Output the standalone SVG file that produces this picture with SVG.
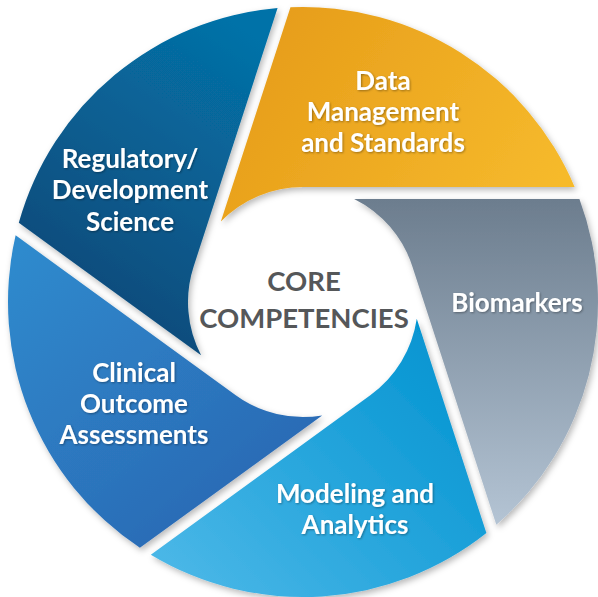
<svg xmlns="http://www.w3.org/2000/svg" width="598" height="597" viewBox="0 0 598 597">
  <defs>
    <linearGradient id="gReg" x1="0.75" y1="0" x2="0.25" y2="1">
      <stop offset="0" stop-color="#0572A8"/>
      <stop offset="1" stop-color="#0C4574"/>
    </linearGradient>
    <linearGradient id="gData" x1="0" y1="0.3" x2="1" y2="0.7">
      <stop offset="0" stop-color="#E69C19"/>
      <stop offset="1" stop-color="#F6BA2C"/>
    </linearGradient>
    <linearGradient id="gBio" x1="0" y1="0" x2="0" y2="1">
      <stop offset="0" stop-color="#6C7D8E"/>
      <stop offset="1" stop-color="#B4C4D4"/>
    </linearGradient>
    <linearGradient id="gMod" x1="0" y1="1" x2="1" y2="0.2">
      <stop offset="0" stop-color="#50BAE9"/>
      <stop offset="1" stop-color="#0394D1"/>
    </linearGradient>
    <linearGradient id="gCli" x1="0.1" y1="0" x2="0.9" y2="1">
      <stop offset="0" stop-color="#2F8ACD"/>
      <stop offset="1" stop-color="#2A64B0"/>
    </linearGradient>
    <filter id="blade" x="-10%" y="-10%" width="120%" height="120%">
      <feDropShadow dx="2" dy="3" stdDeviation="3" flood-color="#000" flood-opacity="0.28"/>
    </filter>
    <filter id="ts" x="-10%" y="-20%" width="120%" height="140%">
      <feDropShadow dx="1" dy="1" stdDeviation="0.8" flood-color="#000" flood-opacity="0.35"/>
    </filter>
  </defs>
  <style>
    .lbl { font-family: Lato, "Open Sans", "Liberation Sans", sans-serif; font-weight: 700; font-size: 26px; fill: #FFFFFF; text-anchor: middle; }
    .core { font-family: Lato, "Open Sans", "Liberation Sans", sans-serif; font-weight: 700; font-size: 27.5px; fill: #555759; text-anchor: middle; }
  </style>
  <rect width="598" height="597" fill="#FFFFFF"/>
  <g id="regulatory">
    <path filter="url(#blade)" fill="url(#gReg)" d="M18.82,222.85 A295,295 0 0 1 277.58,8.09 L193.63,266.46 A115,115 0 0 0 201.08,355.26 Z"/>
    <text class="lbl" filter="url(#ts)" x="130" y="168">Regulatory/</text>
    <text class="lbl" filter="url(#ts)" x="130" y="199">Development</text>
    <text class="lbl" filter="url(#ts)" x="130" y="231">Science</text>
  </g>
  <g id="data-management">
    <path filter="url(#blade)" fill="url(#gData)" d="M290.46,7.27 A295,295 0 0 1 574.66,187 L303,187 A115,115 0 0 0 220.85,221.52 Z"/>
    <text class="lbl" filter="url(#ts)" x="383" y="90">Data</text>
    <text class="lbl" filter="url(#ts)" x="383" y="121">Management</text>
    <text class="lbl" filter="url(#ts)" x="383" y="152">and Standards</text>
  </g>
  <g id="biomarkers">
    <path filter="url(#blade)" fill="url(#gBio)" d="M579.43,199 A295,295 0 0 1 496.32,524.83 L412.37,266.46 A115,115 0 0 0 354.15,199 Z"/>
    <text class="lbl" filter="url(#ts)" x="517" y="312">Biomarkers</text>
  </g>
  <g id="modeling">
    <path filter="url(#blade)" fill="url(#gMod)" d="M486.38,533.07 A295,295 0 0 1 150.82,554.72 L370.6,395.04 A115,115 0 0 0 416.77,318.82 Z"/>
    <text class="lbl" filter="url(#ts)" x="355" y="503">Modeling and</text>
    <text class="lbl" filter="url(#ts)" x="355" y="534">Analytics</text>
  </g>
  <g id="clinical">
    <path filter="url(#blade)" fill="url(#gCli)" d="M139.9,547.81 A295,295 0 0 1 15.62,235.36 L235.4,395.04 A115,115 0 0 0 322.16,415.4 Z"/>
    <text class="lbl" filter="url(#ts)" x="134" y="382">Clinical</text>
    <text class="lbl" filter="url(#ts)" x="134" y="413">Outcome</text>
    <text class="lbl" filter="url(#ts)" x="134" y="444">Assessments</text>
  </g>
  <g id="core">
    <text class="core" x="304" y="291">CORE</text>
    <text class="core" x="304" y="328">COMPETENCIES</text>
  </g>
  <g id="connectors"/>
</svg>
